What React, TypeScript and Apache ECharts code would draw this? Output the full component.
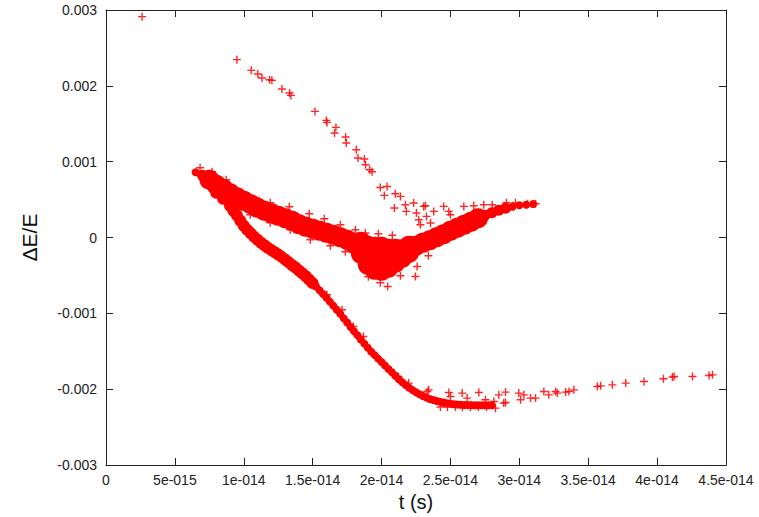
import React, { useEffect, useRef } from "react";
import * as echarts from "echarts";

// Units: t in femtoseconds (1e-15 s), dE/E in units of 1e-3.
const xMin = 0, xMax = 45, xStep = 5;
const yMin = -3, yMax = 3, yStep = 1;

// Single isolated point at the top left
const outlier: number[][] = [[2.62, 2.912]];

// Sparse descending branch (upper)
const upperSparse: number[][] = [
  [9.5, 2.345], [10.54, 2.204], [11.02, 2.156], [11.32, 2.104], [11.87, 2.081], [12.04, 2.072],
  [12.77, 1.958], [13.32, 1.906], [13.42, 1.874], [15.17, 1.663], [15.99, 1.544], [16.04, 1.518],
  [16.69, 1.452], [16.59, 1.378], [17.39, 1.325], [17.44, 1.246], [18.17, 1.158], [18.29, 1.048],
  [18.75, 1.035], [18.84, 0.96], [19.14, 0.894], [19.31, 0.867], [19.91, 0.66], [20.4, 0.673],
  [20.2, 0.555], [21.0, 0.577], [21.37, 0.542],
];

// Scattered points above the rising arm
const aboveArm: number[][] = [
  [20.93, 0.389], [21.73, 0.432], [21.8, 0.344], [22.33, 0.454], [22.53, 0.323], [23.06, 0.41],
  [23.26, 0.278], [23.55, 0.191], [22.82, 0.168], [23.79, 0.344], [22.7, 0.234], [23.18, 0.419],
  [24.51, 0.41], [24.88, 0.344], [25.0, 0.3], [25.97, 0.41], [26.69, 0.419], [27.42, 0.432],
  [28.03, 0.432], [29.07, 0.458], [29.72, 0.458], [30.6, 0.445], [31.18, 0.445],
];

// Dense upper band (the "V" shaped cloud), centre line
const upperBandCore: number[][] = [
  [7.5, 0.762], [8, 0.696], [8.5, 0.643], [9, 0.584], [9.5, 0.531], [10, 0.485], [10.5, 0.439],
  [11, 0.392], [11.5, 0.353], [12, 0.32], [12.5, 0.287], [13, 0.254], [13.5, 0.221], [14, 0.175],
  [14.5, 0.142], [15, 0.115], [15.5, 0.089], [16, 0.063], [16.5, 0.036], [17, 0.003], [17.5, -0.03],
  [18, -0.082], [18.5, -0.135], [19, -0.228], [19.5, -0.274], [20, -0.28], [20.5, -0.274],
  [21, -0.241], [21.5, -0.201], [22, -0.155], [22.5, -0.109], [23, -0.069], [23.5, -0.036],
  [24, 0.003], [24.5, 0.043], [25, 0.089], [25.5, 0.129], [26, 0.168], [26.5, 0.208], [27, 0.254],
];
const upperBandMidEnds: number[][] = [
  [7, 0.821], [27.5, 0.294], [28, 0.327], [28.5, 0.36], [29, 0.386],
];
const upperBandThinEnds: number[][] = [
  [6.5, 0.861], [29.5, 0.406], [30, 0.425], [30.5, 0.432], [31, 0.441],
];

// Thick part of the cloud near t = 2e-14
const blobCore: number[][] = [
  [18.5, -0.056], [18.5, -0.214], [19, -0.109], [19, -0.36], [19.5, -0.122], [19.5, -0.426],
  [20, -0.122], [20, -0.439], [20.5, -0.148], [20.5, -0.399], [21, -0.148], [21, -0.333],
  [21.5, -0.155], [21.5, -0.267], [22, -0.109], [22, -0.201], [18.75, -0.175], [19.25, -0.254],
  [19.75, -0.294], [20.25, -0.28], [20.75, -0.254],
];
const blobScatter: number[][] = [
  [20.44, -0.646], [22.46, -0.514], [22.58, -0.382], [19.04, -0.518], [19.91, -0.597],
  [21.37, -0.505], [23.4, -0.241], [18.82, 0.059], [19.77, 0.049], [20.78, 0.03],
];

// Fuzzy edges of the upper band
const bandFringe: number[][] = [
  [6.83, 0.92], [7.7, 0.867], [8.72, 0.762], [11.12, 0.485], [11.92, 0.458], [13.3, 0.406],
  [14.75, 0.313], [15.84, 0.247], [17.01, 0.168], [18.1, 0.102],
  [10.47, 0.3], [11.92, 0.195], [13.37, 0.102], [14.83, -0.03], [16.28, -0.109], [17.37, -0.188],
];

// Lower descending branch
const lowerBranchEarly: number[][] = [
  [8, 0.59], [8.5, 0.511], [9, 0.419], [9.25, 0.353], [9.5, 0.294], [9.75, 0.221], [10, 0.155],
  [10.25, 0.102], [10.5, 0.056], [10.75, 0.01], [11, -0.03], [11.25, -0.069], [11.5, -0.102],
  [11.75, -0.137], [12, -0.166], [12.25, -0.195], [12.5, -0.224], [12.75, -0.255], [13, -0.291],
  [13.25, -0.325], [13.5, -0.362], [13.75, -0.396], [14, -0.435], [14.25, -0.473], [14.5, -0.511],
  [14.75, -0.557], [15, -0.602],
];
const lowerBranchLate: number[][] = [
  [15.25, -0.647], [15.5, -0.696], [15.75, -0.745], [16, -0.795], [16.25, -0.846], [16.5, -0.898],
  [16.75, -0.952], [17, -1.005], [17.25, -1.064], [17.5, -1.122], [17.75, -1.18], [18, -1.236],
  [18.25, -1.29], [18.5, -1.345], [18.75, -1.399], [19, -1.453], [19.25, -1.506], [19.5, -1.551],
  [19.75, -1.597], [20, -1.642], [20.25, -1.687], [20.5, -1.733], [20.75, -1.778], [21, -1.824],
  [21.25, -1.869], [21.5, -1.908], [21.75, -1.945], [22, -1.982], [22.25, -2.013], [22.5, -2.04],
  [22.75, -2.067], [23, -2.089], [23.25, -2.11], [23.5, -2.13], [23.75, -2.143], [24, -2.155],
  [24.25, -2.166], [24.5, -2.175], [24.75, -2.185], [25, -2.193], [25.25, -2.199], [25.5, -2.203],
  [25.75, -2.206], [26, -2.208], [26.25, -2.21], [26.5, -2.21], [26.75, -2.212], [27, -2.213],
  [27.25, -2.213], [27.5, -2.213], [27.75, -2.213], [28, -2.213],
];
const lowerFringe: number[][] = [
  [17.13, -0.953], [18.68, -1.305], [17.95, -1.173], [21.22, -1.833], [23.31, -2.031],
  [16.04, -0.755], [14.83, -0.601], [11.92, -0.118], [21.97, -1.92], [23.42, -2.009],
];
const lowerTail: number[][] = [
  [24.88, -2.044], [25.0, -2.097], [25.85, -2.052], [26.21, -2.118], [27.06, -2.044], [27.54, -2.14],
  [28.27, -2.25], [28.51, -2.075], [29.0, -2.039], [29.0, -2.176], [28.15, -2.163], [28.87, -2.184],
  [29.96, -2.052], [30.09, -2.14], [30.33, -2.075], [30.81, -2.118], [31.18, -2.118], [31.78, -2.031],
  [32.14, -2.075], [32.63, -2.031], [32.76, -2.052], [33.36, -2.039], [33.6, -2.031], [33.96, -2.009],
  [35.66, -1.965], [35.9, -1.956], [36.75, -1.943], [37.72, -1.92], [39.05, -1.899], [40.46, -1.863],
  [41.11, -1.841], [41.23, -1.833], [42.57, -1.833], [43.77, -1.82], [44.02, -1.811],
  [24.27, -2.236], [24.78, -2.236], [25.36, -2.236], [25.87, -2.24], [26.45, -2.24], [27.03, -2.24],
  [27.62, -2.236],
];

const RED = "#ff0000";
const PLUS = "path://M3.3,0H4.7V3.3H8V4.7H4.7V8H3.3V4.7H0V3.3H3.3Z";
const FONT = "'Liberation Sans', Arial, Helvetica, sans-serif";

function fmtX(v: number): string {
  if (Math.abs(v) < 1e-9) return "0";
  const s = Number((v * 1e-15).toPrecision(3)).toExponential();
  return s.replace(/e([+-])(\d+)$/, (_m, sign, d) => "e" + sign + d.padStart(3, "0"));
}
function fmtY(v: number): string {
  const r = Math.round(v * 1000) / 1e6;
  return r === 0 ? "0" : String(r);
}

export default function App() {
  const ref = useRef<HTMLDivElement>(null);
  useEffect(() => {
    if (!ref.current) return;
    const chart = echarts.init(ref.current, null, { renderer: "svg" });
    const circle = (data: number[][], size: number) => ({
      type: "scatter", data, symbol: "circle", symbolSize: size, silent: true,
      itemStyle: { color: RED, opacity: 1 },
    });
    const plus = (data: number[][]) => ({
      type: "scatter", data, symbol: PLUS, symbolSize: 8, silent: true,
      itemStyle: { color: RED, opacity: 0.85 },
    });
    const axisCommon = {
      axisLine: { show: true, onZero: false, lineStyle: { color: "#222", width: 1 } },
      axisTick: { show: true, inside: true, length: 7, lineStyle: { color: "#222", width: 1 } },
      splitLine: { show: false },
    };
    chart.setOption({
      animation: false,
      textStyle: { fontFamily: FONT },
      grid: { left: 106, right: 33, top: 10, bottom: 52, containLabel: false },
      xAxis: [
        {
          type: "value", min: xMin, max: xMax, interval: xStep, position: "bottom",
          ...axisCommon,
          axisLabel: { formatter: fmtX, fontSize: 14, color: "#222", margin: 8, fontFamily: FONT },
          name: "t (s)", nameLocation: "middle", nameGap: 16,
          nameTextStyle: { fontSize: 20, color: "#111", fontFamily: FONT },
        },
        {
          type: "value", min: xMin, max: xMax, interval: xStep, position: "top",
          ...axisCommon, axisLabel: { show: false },
        },
      ],
      yAxis: [
        {
          type: "value", min: yMin, max: yMax, interval: yStep, position: "left",
          ...axisCommon,
          axisLabel: { formatter: fmtY, fontSize: 14, color: "#222", margin: 9, fontFamily: FONT },
          name: "ΔE/E", nameLocation: "middle", nameGap: 66, nameRotate: 90,
          nameTextStyle: { fontSize: 21, color: "#111", fontFamily: FONT },
        },
        {
          type: "value", min: yMin, max: yMax, interval: yStep, position: "right",
          ...axisCommon, axisLabel: { show: false },
        },
      ],
      series: [
        circle(upperBandCore, 20),
        circle(blobCore, 20),
        circle(upperBandMidEnds, 11),
        circle(upperBandThinEnds, 8),
        circle(lowerBranchEarly, 12),
        circle(lowerBranchLate, 8),
        plus(outlier),
        plus(upperSparse),
        plus(aboveArm),
        plus(blobScatter),
        plus(bandFringe),
        plus(lowerFringe),
        plus(lowerTail),
      ],
    });
    return () => chart.dispose();
  }, []);
  return (
    <div
      ref={ref}
      style={{ position: "absolute", left: 0, top: 0, width: 759, height: 517, background: "#fff" }}
    />
  );
}
